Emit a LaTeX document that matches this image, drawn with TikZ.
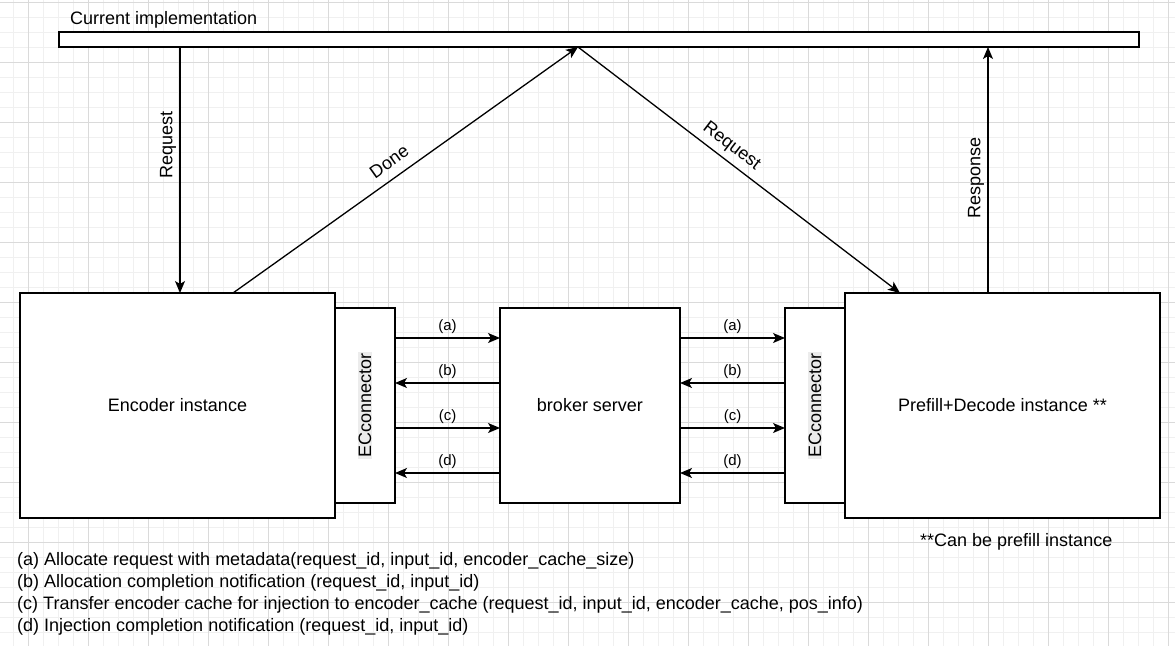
\documentclass[tikz,border=0pt]{standalone}
\usepackage{fontspec}
\setmainfont{Liberation Sans}
\usetikzlibrary{arrows.meta,calc,positioning}
\definecolor{gridminor}{RGB}{240,240,240}
\definecolor{gridmajor}{RGB}{218,218,218}
\definecolor{labelgray}{RGB}{236,236,236}

\begin{document}
\begin{tikzpicture}[x=1pt, y=-1pt,
  >={Stealth[length=12pt,width=10pt,inset=3pt]},
  txt/.style={font=\fontsize{18}{22}\selectfont},
  small/.style={font=\fontsize{15}{18}\selectfont},
  box/.style={draw, line width=1.3pt, fill=white, outer sep=0pt, txt},
  flow/.style={line width=1.3pt, ->}]

\useasboundingbox (0,0) rectangle (1175,646);

%==================================================
% Background grid
%==================================================
\foreach \gx in {13,28,...,1175} \draw[gridminor, line width=1pt] (\gx,0) -- (\gx,646);
\foreach \gy in {2,17,...,646} \draw[gridminor, line width=1pt] (0,\gy) -- (1175,\gy);
\foreach \gx in {28,88,...,1175} \draw[gridmajor, line width=1pt] (\gx,0) -- (\gx,646);
\foreach \gy in {2,62,...,646} \draw[gridmajor, line width=1pt] (0,\gy) -- (1175,\gy);

%==================================================
% Top bar
%==================================================
\node[box, minimum width=1080pt, minimum height=15pt, inner sep=0pt] (bar) at (599,39.5) {};
\node[txt, anchor=base west, inner sep=0pt] (title) at (70,24) {Current implementation};

%==================================================
% Instances, connectors and broker
%==================================================
\node[box, minimum width=315pt, minimum height=225pt] (enc) at (177.5,405.5) {Encoder instance};
\node[box, minimum width=60pt, minimum height=195pt, right=0pt of enc] (lcon) {};
\node[box, minimum width=180pt, minimum height=195pt, right=105pt of lcon] (broker) {broker server};
\node[box, minimum width=60pt, minimum height=195pt, right=105pt of broker] (rcon) {};
\node[box, minimum width=315pt, minimum height=225pt, right=0pt of rcon] (pd) {Prefill+Decode instance **};

% connector labels
\node[txt, rotate=90, fill=labelgray, inner sep=1pt] (lconlbl) at (lcon) {ECconnector};
\node[txt, rotate=90, fill=labelgray, inner sep=1pt] (rconlbl) at (rcon) {ECconnector};

%--------------------------------------------------
% Message arrows (a)-(d)
%--------------------------------------------------
\foreach \dy/\lab/\dir in {-67.5/a/->, -22.5/b/<-, 22.5/c/->, 67.5/d/<-}{
  \draw[flow, \dir] ($(lcon.east)+(0,\dy)$) -- ($(broker.west)+(0,\dy)$)
    node[midway, above, small] {(\lab)};
  \draw[flow, \dir] ($(broker.east)+(0,\dy)$) -- ($(rcon.west)+(0,\dy)$)
    node[midway, above, small] {(\lab)};
}

%==================================================
% Links to the top bar
%==================================================
\coordinate (apex)   at ($(bar.south west)+(519,0)$);
\coordinate (encreq) at ($(enc.north west)+(160,0)$);
\coordinate (encdone) at ($(enc.north west)+(213,0)$);
\coordinate (pdreq)  at ($(pd.north west)+(55,0)$);
\coordinate (pdresp) at ($(pd.north west)+(143,0)$);

\draw[flow] (encreq |- bar.south) -- (encreq)
  node[pos=0.39, rotate=90, above=-2pt, txt] {Request};
\draw[flow] (encdone) -- (apex)
  node[pos=0.48, sloped, above=6pt, txt] {Done};
\draw[flow] (apex) -- (pdreq)
  node[pos=0.45, sloped, above=2pt, txt] {Request};
\draw[flow] (pdresp) -- (pdresp |- bar.south)
  node[pos=0.48, rotate=90, above=-3pt, txt] {Response};

%==================================================
% Notes
%==================================================
\node[txt, anchor=base west, inner sep=0pt] (note) at (920,546) {**Can be prefill instance};

\node[txt, anchor=base west, inner sep=0pt] (leg_a) at (17,565)
  {(a) Allocate request with metadata(request\_id, input\_id, encoder\_cache\_size)};
\node[txt, anchor=base west, inner sep=0pt] (leg_b) at (17,587)
  {(b) Allocation completion notification (request\_id, input\_id)};
\node[txt, anchor=base west, inner sep=0pt] (leg_c) at (17,609)
  {(c) Transfer encoder cache for injection to encoder\_cache (request\_id, input\_id, encoder\_cache, pos\_info)};
\node[txt, anchor=base west, inner sep=0pt] (leg_d) at (17,631)
  {(d) Injection completion notification (request\_id, input\_id)};

\end{tikzpicture}
\end{document}
